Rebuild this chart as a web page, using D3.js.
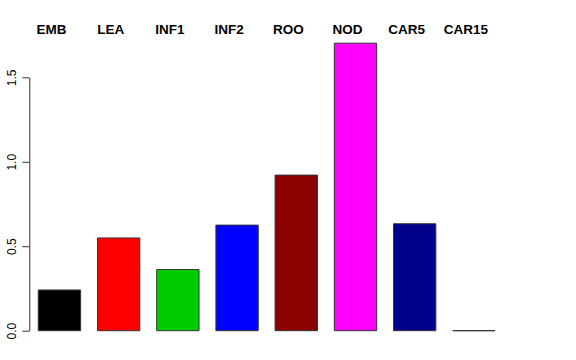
<!DOCTYPE html>
<html>
<head>
<meta charset="utf-8">
<script src="https://cdn.jsdelivr.net/npm/d3@7"></script>
<style>
  html, body { margin: 0; padding: 0; background: #fff; }
  svg { display: block; font-family: "Liberation Sans", Arial, Helvetica, sans-serif; }
</style>
</head>
<body>
<svg id="chart" width="576" height="360"></svg>
<script>
/* bar chart — one bar per tissue, names across the top */

const tissues = ['EMB', 'LEA', 'INF1', 'INF2', 'ROO', 'NOD', 'CAR5', 'CAR15'];
const values = [0.241, 0.549, 0.362, 0.625, 0.921, 1.702, 0.633, 0.0];
const fills = ['#000000', '#FF0000', '#00CD00', '#0000FF', '#8B0000', '#FF00FF', '#00008B', '#FFFFFF'];
const yTicks = [0, 0.5, 1.0, 1.5];

const svg = d3.select('#chart');

const x = d3.scaleBand()
  .domain(tissues)
  .range([29.85, 503.5])
  .paddingInner(0.285)
  .paddingOuter(0.1425);

const y = d3.scaleLinear().domain([0, 1.5]).range([330.7, 77.3]);

// bars drawn as closed paths so a zero-height bar still shows its outline
svg.append('g').selectAll('path')
  .data(tissues)
  .join('path')
  .attr('d', (d, i) => {
    const x0 = x(d), x1 = x(d) + x.bandwidth();
    const y0 = y(0), y1 = y(values[i]);
    return `M${x0},${y0}L${x0},${y1}L${x1},${y1}L${x1},${y0}Z`;
  })
  .attr('fill', (d, i) => fills[i])
  .attr('stroke', '#333')
  .attr('stroke-width', 1);

// names on top
svg.append('g').selectAll('text')
  .data(tissues)
  .join('text')
  .attr('x', d => x(d) + x.bandwidth() / 2 - 8)
  .attr('y', 34)
  .attr('text-anchor', 'middle')
  .attr('font-size', 13.5)
  .attr('font-weight', 'bold')
  .attr('fill', '#000')
  .text(d => d);

// y axis
const ax = svg.append('g')
  .attr('transform', 'translate(29.3,0)')
  .call(d3.axisLeft(y).tickValues(yTicks).tickFormat(d3.format('.1f')).tickSize(7).tickSizeOuter(0));
ax.select('.domain').attr('stroke', '#333');
ax.selectAll('.tick line').attr('stroke', '#333');
ax.selectAll('.tick text')
  .attr('font-size', 12)
  .attr('font-family', '"Liberation Sans", Arial, sans-serif')
  .attr('fill', '#000')
  .attr('text-anchor', 'middle')
  .attr('x', 0)
  .attr('dy', 0)
  .attr('transform', 'translate(-13.5,0) rotate(-90)');
</script>
</body>
</html>
